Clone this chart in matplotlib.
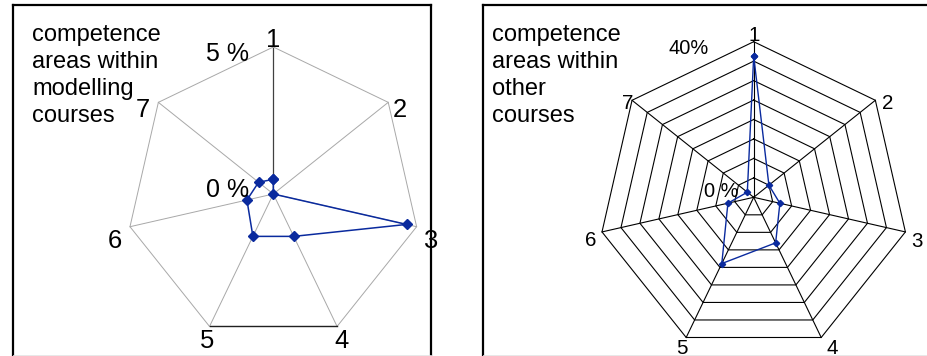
import numpy as np
import matplotlib
matplotlib.use("Agg")
import matplotlib.pyplot as plt
from matplotlib.lines import Line2D

plt.rcParams["font.family"] = ["Liberation Sans", "DejaVu Sans"]

W, H = 927, 356

# categories (competence areas)
categorias = ["1", "2", "3", "4", "5", "6", "7"]

# share of competence areas in %
modelling_pct = [0.5, 0.0, 4.65, 1.6, 1.6, 0.92, 0.64]
outros_pct = [36.3, 5.0, 6.9, 13.0, 18.9, 6.8, 2.1]

MAX_MODELLING = 5
MAX_OUTROS = 40
PASSO_OUTROS = 5

COR_SERIE = "#0a2a9e"


def fx(px):
    return px / W


def fy(py):
    return 1 - py / H


def eixo_polar(fig, cx, cy, r, rmax):
    ax = fig.add_axes([fx(cx - r), fy(cy + r), 2 * r / W, 2 * r / H], projection="polar")
    ax.set_theta_zero_location("N")
    ax.set_theta_direction(-1)
    ax.set_ylim(0, rmax)
    ax.axis("off")
    return ax


def fechar(v):
    return list(v) + [v[0]]


def moldura(fig, x0, x1, y0):
    kw = dict(color="black", lw=1.6, transform=fig.transFigure)
    fig.add_artist(Line2D([fx(x0), fx(x0)], [fy(y0), fy(H + 5)], **kw))
    fig.add_artist(Line2D([fx(x0), fx(x1)], [fy(y0), fy(y0)], **kw))
    if x1 < W:
        fig.add_artist(Line2D([fx(x1), fx(x1)], [fy(y0), fy(H + 5)], **kw))


def titulo(fig, x, linhas):
    for i, t in enumerate(linhas):
        fig.text(fx(x), fy(40.8 + 27 * i), t, fontsize=17, ha="left", va="baseline")


fig = plt.figure(figsize=(W / 100, H / 100), dpi=100)
n = len(categorias)
theta = np.arange(n) * 2 * np.pi / n

# =========================
# left: modelling courses
# =========================
axl = eixo_polar(fig, 273.3, 194.0, 147.0, MAX_MODELLING)
for i, t in enumerate(theta):
    cor = "#404040" if i == 0 else "#a8a8a8"
    axl.plot([t, t], [0, MAX_MODELLING], color=cor, lw=0.7 if i else 0.9, clip_on=False)
axl.plot(fechar(theta), [MAX_MODELLING] * (n + 1), color="#a8a8a8", lw=0.7, clip_on=False)
axl.plot([theta[3], theta[4]], [MAX_MODELLING] * 2, color="#202020", lw=1.0, clip_on=False)
axl.plot(fechar(theta), fechar(modelling_pct), color=COR_SERIE, lw=1.1,
         marker="D", markersize=4.8, clip_on=False)

pos_l = [(273.3, 46.7), (400, 117), (430.5, 248), (341.5, 347.5),
         (207.5, 347.5), (115, 248), (143, 117)]
for c, (x, y) in zip(categorias, pos_l):
    fig.text(fx(x), fy(y), c, fontsize=18.4, ha="center", va="baseline")
fig.text(fx(249), fy(61), "5 %", fontsize=18, ha="right", va="baseline")
fig.text(fx(249), fy(196.7), "0 %", fontsize=18, ha="right", va="baseline")

titulo(fig, 32, ["competence", "areas within", "modelling", "courses"])
moldura(fig, 13, 431, 5)

# =========================
# right: other courses
# =========================
axr = eixo_polar(fig, 753.7, 197.3, 155.6, MAX_OUTROS)
for t in theta:
    axr.plot([t, t], [0, MAX_OUTROS], color="black", lw=0.8, clip_on=False)
for r in range(PASSO_OUTROS, MAX_OUTROS + 1, PASSO_OUTROS):
    axr.plot(fechar(theta), [r] * (n + 1), color="black", lw=0.8, clip_on=False)
axr.plot(fechar(theta), fechar(outros_pct), color=COR_SERIE, lw=1.0,
         marker="D", markersize=3.2, clip_on=False)

pos_r = [(754, 40.7), (887.5, 109), (916.5, 247), (832.5, 353.5),
         (681.5, 353.5), (591, 246), (627.5, 109)]
for c, (x, y) in zip(categorias, pos_r):
    fig.text(fx(x), fy(y), c, fontsize=14.8, ha="center", va="baseline")
fig.text(fx(689), fy(54.3), "40%", fontsize=14.4, ha="center", va="baseline")
fig.text(fx(739), fy(196.7), "0 %", fontsize=14.4, ha="right", va="baseline")

titulo(fig, 492.3, ["competence", "areas within", "other", "courses"])
moldura(fig, 483, W + 10, 5)

# faint bottom line
fig.add_artist(Line2D([fx(13), fx(431)], [fy(354.5), fy(354.5)], color="#e4e4e4", lw=0.6,
                      transform=fig.transFigure))
fig.add_artist(Line2D([fx(483), fx(W)], [fy(354.5), fy(354.5)], color="#e4e4e4", lw=0.6,
                      transform=fig.transFigure))

fig.savefig("out.png", dpi=100)
print("[OK] out.png")
